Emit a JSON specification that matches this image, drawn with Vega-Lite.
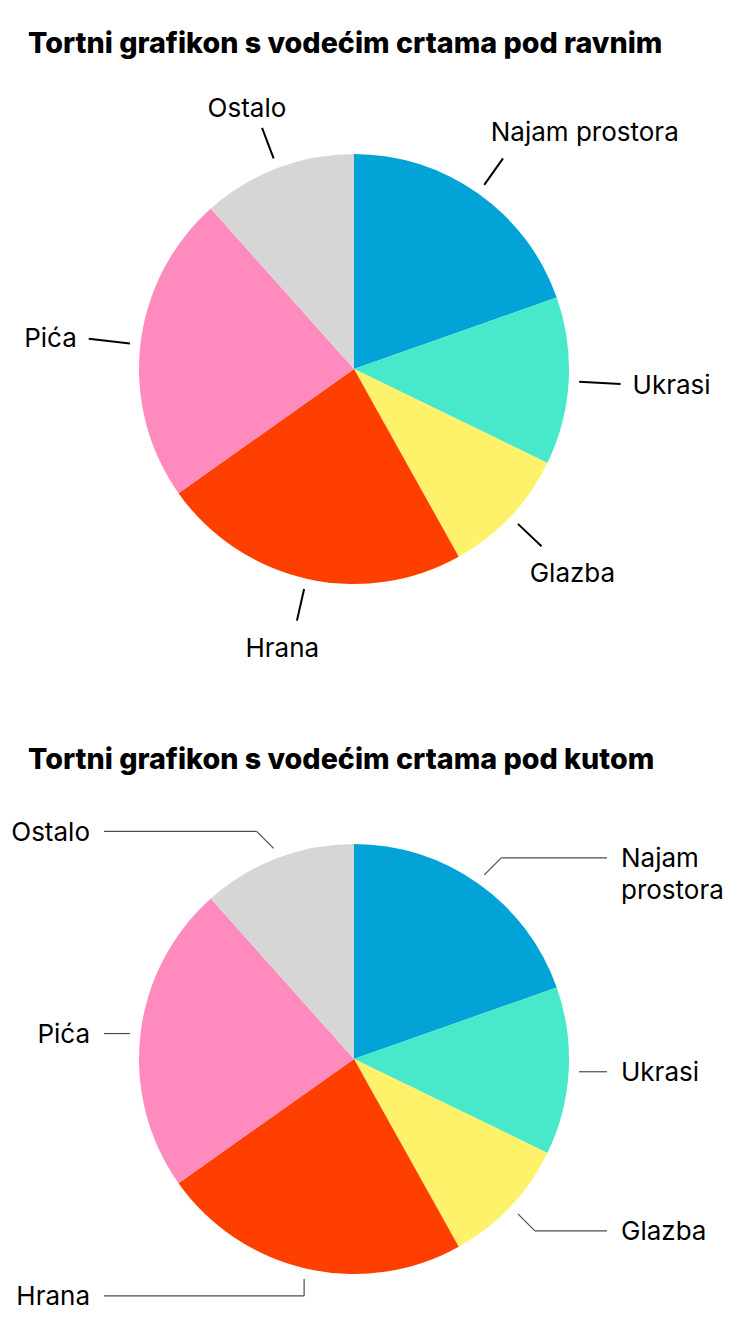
{
  "$schema": "https://vega.github.io/schema/vega-lite/v6.json",
  "background": "white",
  "padding": {"top": 30, "left": 0, "right": 0, "bottom": 0},
  "bounds": "flush",
  "spacing": 121,
  "datasets": {
    "spend": [
      {"i": 1, "label": "Najam prostora", "value": 19.6},
      {"i": 2, "label": "Ukrasi", "value": 12.6},
      {"i": 3, "label": "Glazba", "value": 9.7},
      {"i": 4, "label": "Hrana", "value": 23.3},
      {"i": 5, "label": "Pića", "value": 23.2},
      {"i": 6, "label": "Ostalo", "value": 11.6}
    ]
  },
  "vconcat": [
    {
      "title": {"text": "Tortni grafikon s vodećim crtama pod ravnim", "offset": 10, "dx": 28},
      "width": 708,
      "height": 600,
      "data": {"name": "spend"},
      "transform": [
        {"stack": "value", "groupby": [], "sort": [{"field": "i", "order": "ascending"}], "as": ["v0", "v1"]},
        {"calculate": "PI * (datum.v0 + datum.v1) / 100", "as": "a"},
        {"calculate": "sin(datum.a)", "as": "s"},
        {"calculate": "cos(datum.a)", "as": "c"},
        {"calculate": "abs(datum.s) > 0.9", "as": "flat"},
        {"calculate": "225.5 * datum.s", "as": "lx0"},
        {"calculate": "-225.5 * datum.c", "as": "ly0"},
        {"calculate": "(datum.flat ? 267 : 258) * datum.s", "as": "lx1"},
        {"calculate": "-(datum.flat ? 267 : 258) * datum.c", "as": "ly1"},
        {"calculate": "(datum.flat ? 279 : 261) * datum.s - (datum.flat ? 0 : 14)", "as": "tx"},
        {"calculate": "-(datum.flat ? 279 : 261) * datum.c - (datum.c > 0.9 ? 18 : 24) * (datum.c > 0.4 ? 1 : datum.c < -0.4 ? -1 : 0) + 1.5", "as": "ty"},
        {"calculate": "datum.s > 0.4 ? 'left' : datum.s < -0.4 ? 'right' : 'center'", "as": "side"}
      ],
      "layer": [
        {
          "mark": {"type": "arc", "radius": 215},
          "encoding": {
            "theta": {"field": "v0", "type": "quantitative", "stack": null, "scale": {"domain": [0, 100]}},
            "theta2": {"field": "v1"},
            "color": {
              "field": "label",
              "type": "nominal",
              "legend": null,
              "scale": {
                "domain": ["Najam prostora", "Ukrasi", "Glazba", "Hrana", "Pića", "Ostalo"],
                "range": ["#02A4D8", "#47E9CA", "#FFF26B", "#FF3F00", "#FF8ABE", "#D6D6D6"]
              }
            }
          }
        },
        {
          "mark": {"type": "rule", "color": "black", "strokeWidth": 2},
          "encoding": {
            "x": {"field": "lx0", "type": "quantitative", "scale": {"domain": [-354, 354], "nice": false}},
            "y": {"field": "ly0", "type": "quantitative", "scale": {"domain": [-300, 300], "nice": false, "reverse": true}},
            "x2": {"field": "lx1"},
            "y2": {"field": "ly1"}
          }
        },
        {
          "transform": [{"filter": "datum.side == 'left'"}],
          "mark": {"type": "text", "align": "left", "baseline": "middle", "fontSize": 26, "color": "black"},
          "encoding": {
            "x": {"field": "tx", "type": "quantitative"},
            "y": {"field": "ty", "type": "quantitative"},
            "text": {"field": "label"}
          }
        },
        {
          "transform": [{"filter": "datum.side == 'center'"}],
          "mark": {"type": "text", "align": "center", "baseline": "middle", "fontSize": 26, "color": "black"},
          "encoding": {
            "x": {"field": "tx", "type": "quantitative"},
            "y": {"field": "ty", "type": "quantitative"},
            "text": {"field": "label"}
          }
        },
        {
          "transform": [{"filter": "datum.side == 'right'"}],
          "mark": {"type": "text", "align": "right", "baseline": "middle", "fontSize": 26, "color": "black"},
          "encoding": {
            "x": {"field": "tx", "type": "quantitative"},
            "y": {"field": "ty", "type": "quantitative"},
            "text": {"field": "label"}
          }
        }
      ]
    },
    {
      "title": {"text": "Tortni grafikon s vodećim crtama pod kutom", "offset": 15, "dx": 28},
      "width": 708,
      "height": 538,
      "data": {"name": "spend"},
      "transform": [
        {"stack": "value", "groupby": [], "sort": [{"field": "i", "order": "ascending"}], "as": ["v0", "v1"]},
        {"calculate": "PI * (datum.v0 + datum.v1) / 100", "as": "a"},
        {"calculate": "sin(datum.a)", "as": "s"},
        {"calculate": "cos(datum.a)", "as": "c"},
        {"calculate": "225.5 * datum.s", "as": "x0"},
        {"calculate": "-225.5 * datum.c", "as": "y0"},
        {"calculate": "abs(datum.c) > 0.95 ? 0 : (datum.s > 0 ? 17 : -17)", "as": "ex"},
        {"calculate": "abs(datum.s) > 0.95 ? 0 : (datum.c > 0 ? -17 : 17)", "as": "ey"},
        {"calculate": "datum.x0 + datum.ex", "as": "x1"},
        {"calculate": "datum.y0 + datum.ey", "as": "y1"},
        {"calculate": "datum.s > 0 ? 253 : -250", "as": "x2"},
        {"calculate": "datum.s > 0 ? 267 : -264", "as": "tx"},
        {"calculate": "datum.y1 + 1.5", "as": "ty"}
      ],
      "layer": [
        {
          "mark": {"type": "arc", "radius": 215},
          "encoding": {
            "theta": {"field": "v0", "type": "quantitative", "stack": null, "scale": {"domain": [0, 100]}},
            "theta2": {"field": "v1"},
            "color": {
              "field": "label",
              "type": "nominal",
              "legend": null,
              "scale": {
                "domain": ["Najam prostora", "Ukrasi", "Glazba", "Hrana", "Pića", "Ostalo"],
                "range": ["#02A4D8", "#47E9CA", "#FFF26B", "#FF3F00", "#FF8ABE", "#D6D6D6"]
              }
            }
          }
        },
        {
          "mark": {"type": "rule", "color": "#4d4d4d", "strokeWidth": 1.2},
          "encoding": {
            "x": {"field": "x0", "type": "quantitative", "scale": {"domain": [-354, 354], "nice": false}},
            "y": {"field": "y0", "type": "quantitative", "scale": {"domain": [-269, 269], "nice": false, "reverse": true}},
            "x2": {"field": "x1"},
            "y2": {"field": "y1"}
          }
        },
        {
          "mark": {"type": "rule", "color": "#4d4d4d", "strokeWidth": 1.2},
          "encoding": {
            "x": {"field": "x1", "type": "quantitative"},
            "y": {"field": "y1", "type": "quantitative"},
            "x2": {"field": "x2"},
            "y2": {"field": "y1"}
          }
        },
        {
          "transform": [{"filter": "datum.s > 0"}],
          "mark": {"type": "text", "align": "left", "baseline": "middle", "fontSize": 26, "color": "black", "lineBreak": " ", "lineHeight": 32},
          "encoding": {
            "x": {"field": "tx", "type": "quantitative"},
            "y": {"field": "ty", "type": "quantitative"},
            "text": {"field": "label"}
          }
        },
        {
          "transform": [{"filter": "datum.s < 0"}],
          "mark": {"type": "text", "align": "right", "baseline": "middle", "fontSize": 26, "color": "black"},
          "encoding": {
            "x": {"field": "tx", "type": "quantitative"},
            "y": {"field": "ty", "type": "quantitative"},
            "text": {"field": "label"}
          }
        }
      ]
    }
  ],
  "config": {
    "font": "Inter",
    "view": {"stroke": null},
    "axisX": {"disable": true},
    "axisY": {"disable": true},
    "title": {"font": "Inter", "fontSize": 28.7, "fontWeight": 800, "color": "black", "anchor": "start", "frame": "group"}
  }
}
